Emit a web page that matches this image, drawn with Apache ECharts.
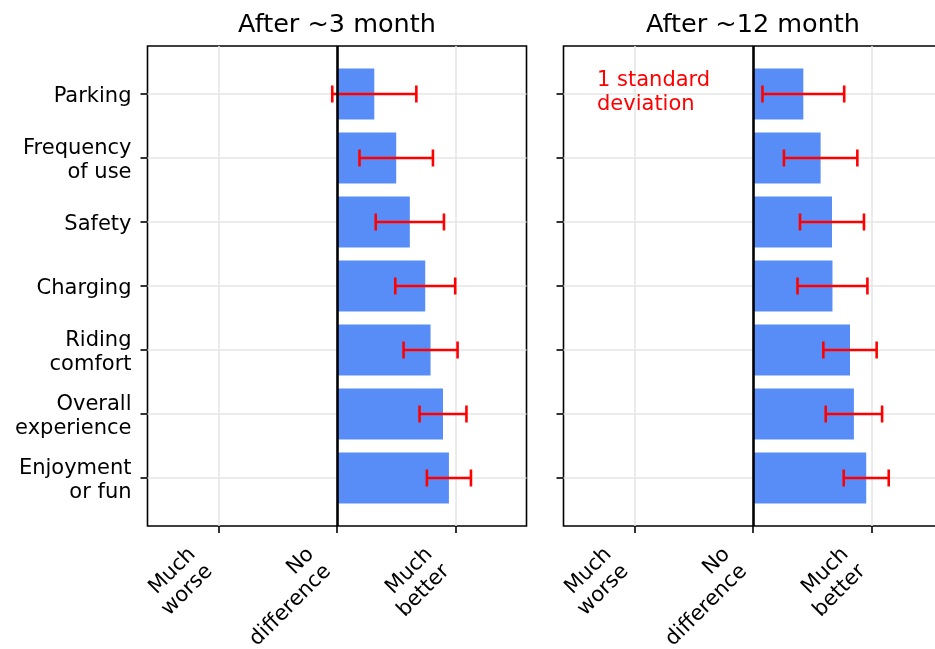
<!DOCTYPE html>
<html>
<head>
<meta charset="utf-8">
<script src="https://cdn.jsdelivr.net/npm/echarts@6/dist/echarts.min.js"></script>
<style>
  html, body { margin: 0; padding: 0; background: #ffffff; }
  #chart { width: 935px; height: 649px; }
</style>
</head>
<body>
<div id="chart"></div>
<script>
// Survey items, top to bottom
const categories = ['Parking', 'Frequency\nof use', 'Safety', 'Charging', 'Riding\ncomfort', 'Overall\nexperience', 'Enjoyment\nor fun'];
const panelTitles = ['After ~3 month', 'After ~12 month'];

// Mean change and one standard deviation, after ~3 months
const mean3 = [0.315, 0.50, 0.615, 0.745, 0.79, 0.895, 0.945];
const sd3   = [0.355, 0.31, 0.288, 0.253, 0.228, 0.198, 0.186];

// Mean change and one standard deviation, after ~12 months
const mean12 = [0.425, 0.571, 0.667, 0.671, 0.819, 0.852, 0.956];
const sd12   = [0.345, 0.31, 0.27, 0.295, 0.225, 0.238, 0.19];

// Rating scale ticks
const xTickValues = [-1, 0, 1];
const xTickLabels = ['Much\nworse', 'No\ndifference', 'Much\nbetter'];

const noteText = '1 standard\ndeviation';

const FONT = 'DejaVu Sans';
const LABEL_SIZE = 21;
const TITLE_SIZE = 25.5;
const BAR_COLOR = '#588df8';
const ERR_COLOR = '#ff0000';
const GRID_COLOR = '#e6e6e6';
const catIndex = categories.map((_, i) => i);

const chart = echarts.init(document.getElementById('chart'), null, { renderer: 'canvas' });

function renderBar(params, api) {
  const v = api.value(0);
  const idx = api.value(1);
  const p0 = api.coord([0, idx]);
  const p1 = api.coord([v, idx]);
  const h = api.size([0, 0.8])[1];
  return {
    type: 'rect',
    shape: { x: p0[0], y: p0[1] - h / 2, width: p1[0] - p0[0], height: h },
    style: { fill: BAR_COLOR }
  };
}

function renderErr(params, api) {
  const v = api.value(0);
  const e = api.value(1);
  const idx = api.value(2);
  const pL = api.coord([v - e, idx]);
  const pR = api.coord([v + e, idx]);
  const cap = 8.5;
  const style = { stroke: ERR_COLOR, lineWidth: 2.6, fill: null };
  return {
    type: 'group',
    children: [
      { type: 'line', shape: { x1: pL[0], y1: pL[1], x2: pR[0], y2: pR[1] }, style: style },
      { type: 'line', shape: { x1: pL[0], y1: pL[1] - cap, x2: pL[0], y2: pL[1] + cap }, style: style },
      { type: 'line', shape: { x1: pR[0], y1: pR[1] - cap, x2: pR[0], y2: pR[1] + cap }, style: style }
    ]
  };
}

function makeXAxis(gi) {
  return {
    type: 'value', gridIndex: gi, min: -1.6, max: 1.6, position: 'bottom',
    axisLine: { show: false, onZero: false },
    splitLine: { show: false },
    axisTick: { show: true, length: 7, lineStyle: { color: '#000', width: 1.6 }, customValues: xTickValues },
    axisLabel: {
      show: true,
      customValues: xTickValues,
      rotate: 45,
      margin: 16,
      padding: [0, 25, 0, 0],
      fontSize: LABEL_SIZE,
      lineHeight: 24,
      fontFamily: FONT,
      color: '#000',
      formatter: function (v) { return xTickLabels[xTickValues.indexOf(Math.round(v))]; }
    }
  };
}

function makeYAxis(gi, showLabels) {
  return {
    type: 'value', gridIndex: gi, inverse: true, min: -0.75, max: 6.75, position: 'left',
    axisLine: { show: false, onZero: false },
    splitLine: { show: false },
    axisTick: { show: true, length: 7, lineStyle: { color: '#000', width: 1.6 }, customValues: catIndex },
    axisLabel: {
      show: showLabels,
      customValues: catIndex,
      margin: 16,
      fontSize: LABEL_SIZE,
      lineHeight: 24,
      fontFamily: FONT,
      color: '#000',
      // a thin empty first line nudges the text block slightly below the tick
      formatter: function (v) { return '{gap| }\n' + categories[Math.round(v)]; },
      rich: { gap: { fontSize: 1, lineHeight: 5 } }
    }
  };
}

function panelSeries(gi, means, sds) {
  const gridLines = [{ xAxis: -1 }, { xAxis: 1 }].concat(catIndex.map(i => ({ yAxis: i })));
  return [
    {
      type: 'custom', name: 'bars' + gi, xAxisIndex: gi, yAxisIndex: gi, z: 2,
      renderItem: renderBar,
      encode: { x: 0, y: 1 },
      data: means.map((m, i) => [m, i]),
      markLine: {
        z: 1, silent: true, symbol: ['none', 'none'], animation: false,
        label: { show: false },
        lineStyle: { color: GRID_COLOR, width: 1.6, type: 'solid' },
        emphasis: { disabled: true },
        data: gridLines
      }
    },
    {
      type: 'custom', name: 'sd' + gi, xAxisIndex: gi, yAxisIndex: gi, z: 4,
      renderItem: renderErr,
      encode: { x: 0, y: 2 },
      data: means.map((m, i) => [m, sds[i], i]),
      markLine: {
        z: 6, silent: true, symbol: ['none', 'none'], animation: false,
        label: { show: false },
        lineStyle: { color: '#000', width: 2.6, type: 'solid' },
        emphasis: { disabled: true },
        data: [{ xAxis: 0 }]
      }
    }
  ];
}

const gridBase = { show: true, borderColor: '#000', borderWidth: 1.6, backgroundColor: 'transparent', containLabel: false, outerBoundsMode: 'none' };

chart.setOption({
  animation: false,
  backgroundColor: '#ffffff',
  textStyle: { fontFamily: FONT },
  grid: [
    Object.assign({ left: 147.5, right: 408.5, top: 46, bottom: 123 }, gridBase),
    Object.assign({ left: 563.5, right: -7.5, top: 46, bottom: 123 }, gridBase)
  ],
  xAxis: [makeXAxis(0), makeXAxis(1)],
  yAxis: [makeYAxis(0, true), makeYAxis(1, false)],
  series: panelSeries(0, mean3, sd3).concat(panelSeries(1, mean12, sd12)),
  graphic: [
    {
      type: 'text', x: 337, y: 25.5, silent: true,
      style: { text: panelTitles[0], fontSize: TITLE_SIZE, fontFamily: FONT, fill: '#000', align: 'center', verticalAlign: 'middle' }
    },
    {
      type: 'text', x: 753, y: 25.5, silent: true,
      style: { text: panelTitles[1], fontSize: TITLE_SIZE, fontFamily: FONT, fill: '#000', align: 'center', verticalAlign: 'middle' }
    },
    {
      type: 'text', x: 597, y: 68, silent: true, z: 10,
      style: { text: noteText, fontSize: LABEL_SIZE, lineHeight: 24.5, fontFamily: FONT, fill: ERR_COLOR, align: 'left', verticalAlign: 'top' }
    }
  ]
});
</script>
</body>
</html>
